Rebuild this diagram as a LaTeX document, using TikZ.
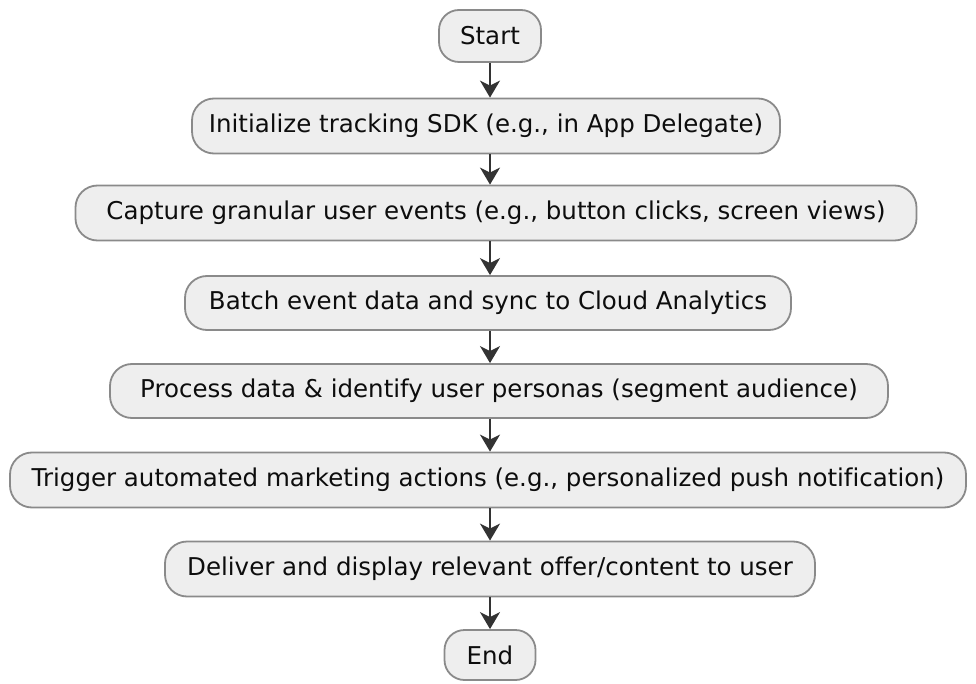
\documentclass[tikz,border=0pt]{standalone}
\usepackage{fontspec}
\setmainfont[Ligatures=NoCommon]{DejaVu Sans}
\usetikzlibrary{arrows.meta}
\definecolor{boxfill}{HTML}{EEEEEE}
\definecolor{boxline}{HTML}{8A8A8A}
\definecolor{arrowcol}{HTML}{333333}
\begin{document}
\begin{tikzpicture}[x=1pt,y=-1pt,
  actbox/.style={draw=boxline, fill=boxfill, line width=1.8pt, rounded corners=22pt,
    inner sep=0pt, font=\fontsize{24.5}{28}\selectfont, text=black!95},
  termbox/.style={actbox, rounded corners=20pt},
  flow/.style={draw=arrowcol, line width=2.2pt, -{Stealth[length=17pt,width=20pt,inset=5pt]}}]
\useasboundingbox (0,0) rectangle (976,684);
\node[termbox, minimum width=102pt, minimum height=52pt] (start) at (490,36) {Start};
\node[actbox, minimum width=588pt, minimum height=55pt] (init) at (486,126) {Initialize tracking SDK (e.g., in App Delegate)};
\node[actbox, minimum width=841pt, minimum height=55pt] (capture) at (496,213) {Capture granular user events (e.g., button clicks, screen views)};
\node[actbox, minimum width=606pt, minimum height=54pt] (batch) at (488,303) {Batch event data and sync to Cloud Analytics};
\node[actbox, minimum width=778pt, minimum height=54pt] (process) at (499,391) {Process data \& identify user personas (segment audience)};
\node[actbox, minimum width=956pt, minimum height=55pt] (trigger) at (488,480) {Trigger automated marketing actions (e.g., personalized push notification)};
\node[actbox, minimum width=650pt, minimum height=55pt] (deliver) at (490,569) {Deliver and display relevant offer/content to user};
\node[termbox, minimum width=91pt, minimum height=50pt] (end) at (490,655) {End};
\draw[flow] (start.south) -- (start.south |- init.north);
\draw[flow] (init.south -| start.south) -- (start.south |- capture.north);
\draw[flow] (capture.south -| start.south) -- (start.south |- batch.north);
\draw[flow] (batch.south -| start.south) -- (start.south |- process.north);
\draw[flow] (process.south -| start.south) -- (start.south |- trigger.north);
\draw[flow] (trigger.south -| start.south) -- (start.south |- deliver.north);
\draw[flow] (deliver.south -| start.south) -- (end.north);
\end{tikzpicture}
\end{document}
